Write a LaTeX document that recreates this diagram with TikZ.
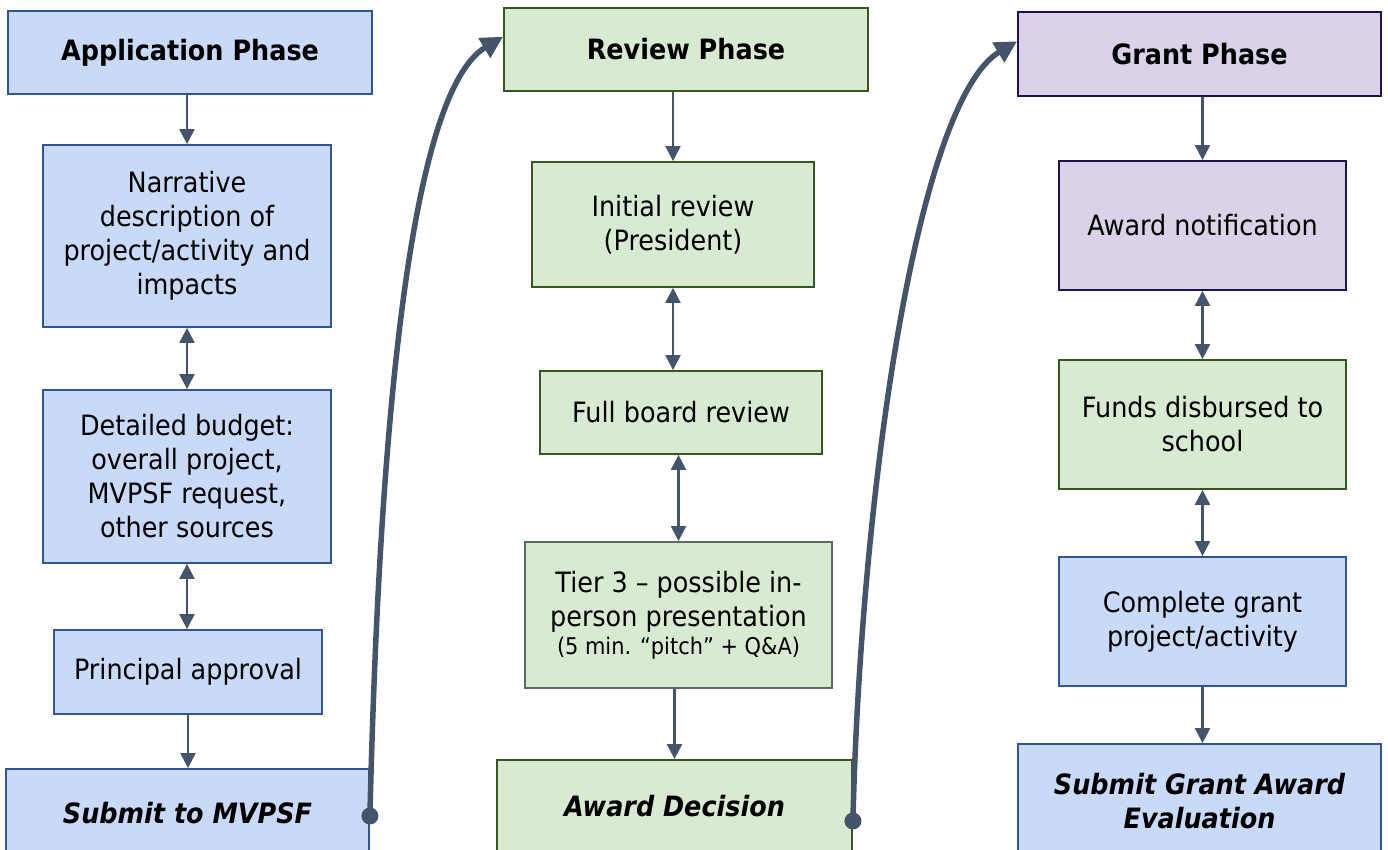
\documentclass[tikz,border=0pt]{standalone}
\usepackage{fontspec}
\setmainfont{DejaVu Sans}[FakeStretch=0.91]
\usepackage{xcolor}
\usepackage{tikz}
\usetikzlibrary{arrows.meta}
\definecolor{linkc}{HTML}{44546A}
\definecolor{bluef}{HTML}{C9DAF8}
\definecolor{blued}{HTML}{2F5597}
\definecolor{greenf}{HTML}{D9EAD3}
\definecolor{greend}{HTML}{38571A}
\definecolor{tierd}{HTML}{5A6B62}
\definecolor{purpf}{HTML}{D9D2E9}
\definecolor{purpd}{HTML}{20124D}

\begin{document}
\begin{tikzpicture}
[x=1pt,y=-1pt,
appl/.style={rectangle,draw=blued,fill=bluef,line width=1.8pt},
revw/.style={rectangle,draw=greend,fill=greenf,line width=1.8pt},
grnt/.style={rectangle,draw=purpd,fill=purpf,line width=1.8pt},
txt/.style={align=center,font=\fontsize{28}{34}\selectfont},
head/.style={align=center,font=\fontsize{28}{34}\selectfont\bfseries},
last/.style={align=center,font=\fontsize{28}{34}\selectfont\bfseries\itshape},
link/.style={-{Triangle[length=15pt,width=15pt]},draw=linkc,line width=2.2pt},
twin/.style={{Triangle[length=15pt,width=15pt]}-{Triangle[length=15pt,width=15pt]},draw=linkc,line width=2.2pt},
jump/.style={-{Triangle[length=22pt,width=22pt]},draw=linkc,line width=5.5pt}]

\clip (0,0) rectangle (1388,850);

% application column
\node at (190,52.5)   [appl,head,minimum width=364pt,minimum height=83pt]  (appph) {Application Phase};
\node at (187,236)    [appl,txt,minimum width=288pt,minimum height=182pt]  (narr)  {Narrative\\description of\\project/activity and\\impacts};
\node at (187,476.5)  [appl,txt,minimum width=288pt,minimum height=173pt]  (budg)  {Detailed budget:\\overall project,\\MVPSF request,\\other sources};
\node at (188,672)    [appl,txt,minimum width=268pt,minimum height=84pt]   (princ) {Principal approval};
\node at (187.5,813)  [appl,last,minimum width=363pt,minimum height=88pt]  (subm)  {Submit to MVPSF};

% review column
\node at (686,49.5)   [revw,head,minimum width=364pt,minimum height=83pt]  (revph) {Review Phase};
\node at (673,224.5)  [revw,txt,minimum width=282pt,minimum height=125pt]  (init)  {Initial review\\(President)};
\node at (681,412.5)  [revw,txt,minimum width=282pt,minimum height=83pt]   (full)  {Full board review};
\node at (678.5,615)  [revw,txt,draw=tierd,minimum width=307pt,minimum height=146pt] (tier)
      {Tier 3 -- possible in-\\person presentation\\[-6pt]{\fontsize{23}{27}\selectfont (5 min. “pitch” + Q\&A)}};
\node at (674.5,806)  [revw,last,minimum width=355pt,minimum height=92pt]  (dec)   {Award Decision};

% grant column
\node at (1199.5,54)   [grnt,head,minimum width=363pt,minimum height=84pt]  (grph)  {Grant Phase};
\node at (1202.5,225.5)[grnt,txt,minimum width=287pt,minimum height=129pt]  (notif) {Award notification};
\node at (1202.5,424.5)[revw,txt,minimum width=287pt,minimum height=129pt]  (fund)  {Funds disbursed to\\school};
\node at (1202.5,621.5)[appl,txt,minimum width=287pt,minimum height=129pt]  (compl) {Complete grant\\project/activity};
\node at (1199.5,801)  [appl,last,minimum width=363pt,minimum height=114pt] (evalu) {Submit Grant Award\\Evaluation};

\draw [link] (narr.north |- appph.south) to (narr.north);
\draw [twin] (narr.south) to (budg.north);
\draw [twin] (budg.south) to (budg.south |- princ.north);
\draw [link] (princ.south) to (princ.south |- subm.north);

\draw [link] (init.north |- revph.south) to (init.north);
\draw [twin] (init.south) to (init.south |- full.north);
\draw [twin] (tier.north |- full.south) to (tier.north);
\draw [link] (dec.north |- tier.south) to (dec.north);

\draw [link] (notif.north |- grph.south) to (notif.north);
\draw [twin] (notif.south) to (fund.north);
\draw [twin] (fund.south) to (compl.north);
\draw [link] (compl.south) to (compl.south |- evalu.north);

% hand-over between the phases
\draw [jump] ([yshift=-3pt]subm.east) .. controls +(8,-330) and +(-100,60) .. (revph.176);
\fill [linkc] ([yshift=-3pt]subm.east) circle (8.5pt);
\draw [jump] ([yshift=-15pt]dec.east) .. controls +(8,-330) and +(-100,60) .. (grph.176);
\fill [linkc] ([yshift=-15pt]dec.east) circle (8.5pt);
\end{tikzpicture}
\end{document}
